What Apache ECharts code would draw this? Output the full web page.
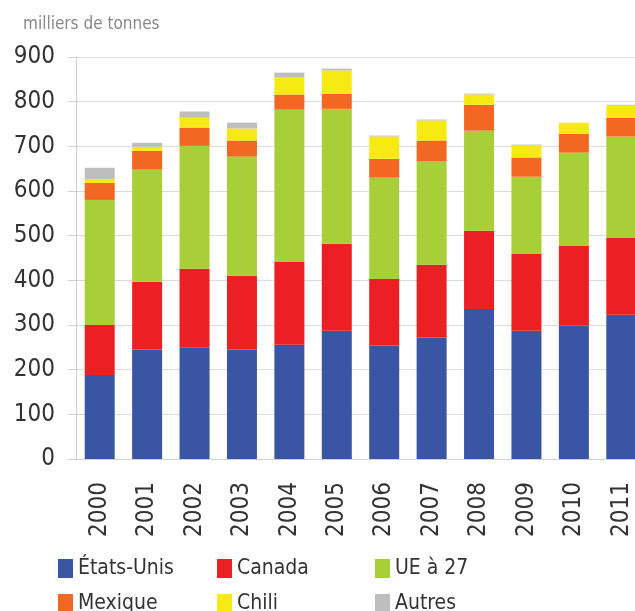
<!DOCTYPE html>
<html>
<head>
<meta charset="utf-8">
<script src="https://cdn.jsdelivr.net/npm/echarts@6/dist/echarts.min.js"></script>
<style>
  html, body { margin: 0; padding: 0; background: #fff; overflow: hidden; }
  /* le graphique d'origine est rogné à droite : la dernière barre dépasse */
  #chart { width: 645px; height: 611px; }
</style>
</head>
<body>
<div id="chart"></div>
<script>
// données (milliers de tonnes)
var annees = ['2000', '2001', '2002', '2003', '2004', '2005', '2006', '2007', '2008', '2009', '2010', '2011'];
var etatsUnis = [188, 245, 250, 245, 256, 287, 254, 272, 336, 287, 299, 323];
var canada = [112, 152, 176, 165, 186, 195, 149, 163, 175, 172, 178, 172];
var ue27 = [280, 251, 275, 267, 340, 302, 227, 231, 224, 173, 209, 227];
var mexique = [38, 42, 41, 36, 34, 34, 42, 47, 58, 43, 42, 42];
var chili = [9, 9, 22, 27, 38, 52, 50, 45, 23, 27, 25, 27];
var autres = [25, 9, 14, 13, 11, 4, 2, 2, 2, 2, 0, 2];
var ticksY = [0, 900, 100];

var police = "'DejaVu Sans Condensed', 'Liberation Sans Narrow', sans-serif";

function createChart() {
    var chartDom = document.getElementById('chart');
    var myChart = echarts.init(chartDom);
    var defs = [
        { name: 'États-Unis', data: etatsUnis, color: '#3a55a4' },
        { name: 'Canada', data: canada, color: '#ec2024' },
        { name: 'UE à 27', data: ue27, color: '#a8cf38' },
        { name: 'Mexique', data: mexique, color: '#f26722' },
        { name: 'Chili', data: chili, color: '#f7ea14' },
        { name: 'Autres', data: autres, color: '#bebebe' }
    ];
    var series = defs.map(function (s) {
        return {
            name: s.name,
            type: 'bar',
            stack: 'total',
            barWidth: 30,
            data: s.data,
            itemStyle: { color: s.color },
            animation: false
        };
    });
    // une légende par élément, grille 3 x 2
    var colX = [58, 217, 375];
    var rowY = [558, 593];
    var legends = defs.map(function (s, i) {
        return {
            data: [s.name],
            left: colX[i % 3],
            top: rowY[Math.floor(i / 3)],
            padding: 0,
            icon: 'rect',
            itemWidth: 15, itemHeight: 19, itemGap: 0,
            textStyle: { fontFamily: police, fontSize: 21, color: '#333' },
            selectedMode: false
        };
    });
    var option = {
        textStyle: { fontFamily: police },
        title: {
            text: 'milliers de tonnes',
            left: 18,
            top: 11,
            textStyle: { fontFamily: police, fontSize: 17, fontWeight: 'normal', color: '#888' }
        },
        legend: legends,
        grid: { left: 76, top: 57, right: 0, height: 402, containLabel: false },
        xAxis: {
            type: 'category',
            data: annees,
            axisLine: { lineStyle: { color: '#d0d0d0' } },
            axisTick: { length: 8, lineStyle: { color: '#d0d0d0' } },
            axisLabel: { rotate: 90, margin: 23, fontSize: 24, color: '#333', fontFamily: police }
        },
        yAxis: {
            type: 'value',
            min: ticksY[0],
            max: ticksY[1],
            interval: ticksY[2],
            axisLine: { show: true, lineStyle: { color: '#d0d0d0' } },
            axisTick: { show: true, length: 8, lineStyle: { color: '#d0d0d0' } },
            splitLine: { lineStyle: { color: '#dcdcdc' } },
            axisLabel: { margin: 21, fontSize: 24, color: '#333', fontFamily: police }
        },
        series: series
    };
    option && myChart.setOption(option);
}
createChart();
</script>
</body>
</html>
